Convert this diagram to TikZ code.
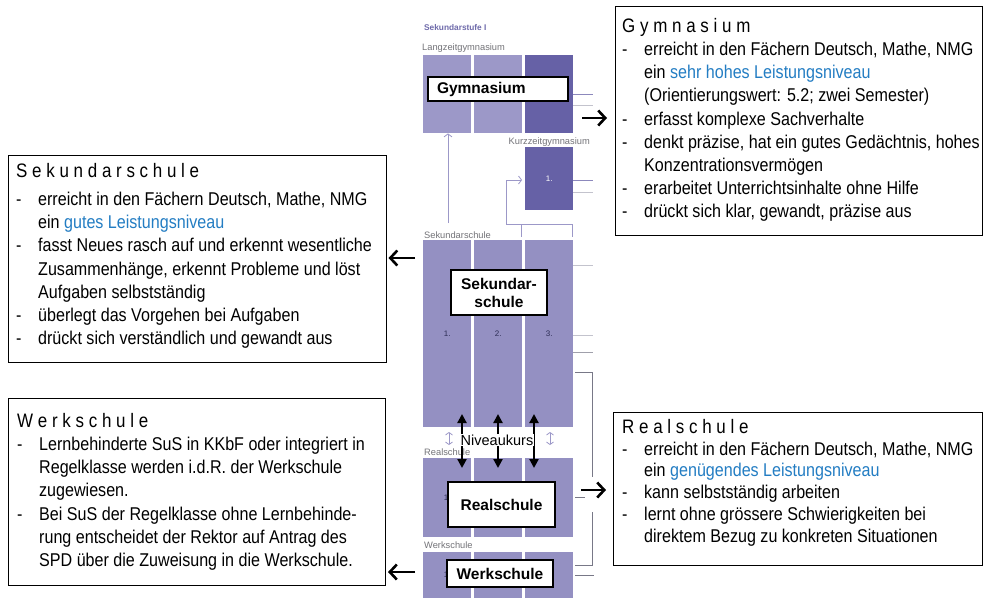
\documentclass[tikz,border=0pt]{standalone}
\usepackage{fontspec}
\setmainfont{Liberation Sans}[FakeStretch=0.87]
\newfontfamily\plainsans{Liberation Sans}
\usetikzlibrary{arrows.meta,calc}
\definecolor{lightpur}{RGB}{148,144,194}
\definecolor{gympur}{RGB}{156,152,200}
\definecolor{darkpur}{RGB}{102,97,166}
\definecolor{stufepur}{RGB}{110,106,170}
\definecolor{linkblue}{RGB}{35,125,195}
\definecolor{lblgray}{RGB}{115,115,120}
\definecolor{numdark}{RGB}{45,45,85}
\definecolor{sidepur}{RGB}{140,136,188}
\definecolor{sidegray}{RGB}{195,195,205}
\definecolor{brackgray}{RGB}{120,120,135}
\newcommand\bul{\makebox[22pt][l]{-}}
\newcommand\ind{\hspace*{22pt}}
\newcommand\bodyfont{\fontsize{18.5}{23.2}\selectfont}
\newcommand\titlefont{\fontsize{19.5}{23}\selectfont}
\tikzset{
  infobox/.style={draw=black, line width=1pt, inner sep=0pt, anchor=north west},
  infotext/.style={inner sep=0pt, align=left, anchor=north west, font=\bodyfont},
  blk/.style={fill=lightpur, draw=none, inner sep=0pt, anchor=north west, minimum width=48pt,
    text=numdark, font=\plainsans\fontsize{8}{9}\selectfont},
  smalllbl/.style={anchor=west, inner sep=0pt, text=lblgray, font=\plainsans\fontsize{9.3}{11}\selectfont},
  boldlbl/.style={draw=black, line width=1.2pt, fill=white, inner sep=0pt,
    font=\plainsans\fontsize{15.5}{18}\selectfont\bfseries, align=center},
  sideline/.style={line width=1pt, draw=sidepur},
  sidelight/.style={line width=1pt, draw=sidegray},
  bracket/.style={line width=0.9pt, draw=brackgray},
  uparrow/.style={line width=0.8pt, draw=gympur, -{Straight Barb[length=3pt,width=8pt]}},
  lightdbl/.style={line width=0.8pt, draw=gympur, {Straight Barb[length=2.5pt,width=7pt]}-{Straight Barb[length=2.5pt,width=7pt]}},
  sidearrow/.style={line width=2.6pt, -{Straight Barb[length=7pt,width=15pt]}},
  nivarrow/.style={line width=2.2pt, {Triangle[length=9pt,width=9pt]}-{Triangle[length=9pt,width=9pt]}}
}
\begin{document}
\begin{tikzpicture}[x=1pt,y=-1pt]
\useasboundingbox (0,0) rectangle (984,598);
\fill[white] (0,0) rectangle (984,598);

% ---------- centre diagram ----------
\node[smalllbl, text=stufepur, font=\plainsans\fontsize{8.3}{10}\selectfont\bfseries] (stufe) at (424,28) {Sekundarstufe I};
\node[smalllbl] (langlbl) at (422,48) {Langzeitgymnasium};

% Gymnasium blocks
\node[blk, fill=gympur, minimum height=78pt] (g1) at (423,55) {};
\node[blk, fill=gympur, minimum height=78pt] (g2) at (474,55) {};
\node[blk, fill=darkpur, minimum height=78pt] (g3) at (525,55) {};
\draw[sideline] (g3.east |- 0,94) -- (593,94);
\draw[sidelight] (g3.east |- 0,105) -- (593,105);

% Kurzzeitgymnasium
\node[smalllbl, anchor=east] (kurzlbl) at (590,142) {Kurzzeitgymnasium};
\node[blk, fill=darkpur, minimum height=63pt, text=white] (k1) at (525,147) {1.};
\draw[sideline] (k1.east |- 0,180) -- (593,180);
\draw[sidelight] (k1.east |- 0,192) -- (593,192);

% Sekundarschule blocks
\node[smalllbl] (seklbl) at (424,235) {Sekundarschule};
\node[blk, minimum height=187pt] (s1) at (423,240) {1.};
\node[blk, minimum height=187pt] (s2) at (474,240) {2.};
\node[blk, minimum height=187pt] (s3) at (525,240) {3.};
\draw[sidelight] (s3.east |- 0,265) -- (593,265);
\draw[sidelight] (s3.east |- 0,335) -- (593,335);
\draw[sidelight, draw=brackgray!70] (s3.east |- 0,352) -- (593,352);

% connectors Sekundarschule -> Gymnasium
\coordinate (upstart) at (448,223);
\draw[uparrow] (upstart) -- (upstart |- g1.south);
\coordinate (kb) at (506,224);
\draw[line width=0.8pt, draw=gympur] (kb) -- (572,224);
\draw[line width=0.8pt, draw=gympur] (521,224) -- (521 ,237);
\draw[line width=0.8pt, draw=gympur] (572,224) -- (572,237);
\draw[uparrow] (kb) -- (506,180) -- (522,180);

% Realschule blocks
\node[smalllbl] (reallbl) at (424,452) {Realschule};
\node[blk, minimum height=79pt] (r1) at (423,458) {1.};
\node[blk, minimum height=79pt] (r2) at (474,458) {};
\node[blk, minimum height=79pt] (r3) at (525,458) {};

% Werkschule blocks
\node[smalllbl] (werklbl) at (424,545) {Werkschule};
\node[blk, minimum height=46pt] (w1) at (423,552) {1.};
\node[blk, minimum height=46pt] (w2) at (474,552) {};
\node[blk, minimum height=46pt] (w3) at (525,552) {};

% right bracket and lines
\draw[bracket] (575,372) -- (592,372) -- (592,477);
\draw[bracket] (592,512) -- (592,565) -- (575,565);
\draw[bracket] (575,497) -- (585,497);
\draw[bracket] (575,575) -- (594,575);

% Niveaukurs
\draw[lightdbl] (449,432) -- (449,445);
\draw[lightdbl] (550,432) -- (550,445);
\coordinate (na1) at (462,414); \coordinate (nb1) at (462,468);
\coordinate (na2) at (498,414); \coordinate (nb2) at (498,468);
\coordinate (na3) at (534,414); \coordinate (nb3) at (534,468);
\draw[nivarrow] (na1) -- (nb1);
\draw[nivarrow] (na2) -- (nb2);
\draw[nivarrow] (na3) -- (nb3);
\node[fill=white, inner sep=0.5pt, font=\plainsans\fontsize{14.5}{16}\selectfont] (niveau) at (497,440) {Niveaukurs};

% bold labels
\node[boldlbl, minimum width=140pt, minimum height=24pt, text width=122pt, align=left] (gymlbl) at (498,89) {Gymnasium};
\node[boldlbl, minimum width=96pt, minimum height=45pt] (seklblbox) at (499,292.5) {Sekundar-\\schule};
\node[boldlbl, minimum width=107pt, minimum height=45pt] (reallblbox) at (501.5,504.5) {Realschule};
\node[boldlbl, minimum width=106pt, minimum height=27pt] (werklblbox) at (500,573.5) {Werkschule};

% ---------- info boxes ----------
\node[infobox, minimum width=367pt, minimum height=229pt] (gymbox) at (615,6) {};
\node[infotext] (gymtext) at (622,18) {{\titlefont G y m n a s i u m}\\
\bul erreicht in den Fächern Deutsch, Mathe, NMG\\
\ind ein \textcolor{linkblue}{sehr hohes Leistungsniveau}\\
\ind (Orientierungswert: 5.2; zwei Semester)\\
\bul erfasst komplexe Sachverhalte\\
\bul denkt präzise, hat ein gutes Gedächtnis, hohes\\
\ind Konzentrationsvermögen\\
\bul erarbeitet Unterrichtsinhalte ohne Hilfe\\
\bul drückt sich klar, gewandt, präzise aus};

\node[infobox, minimum width=378pt, minimum height=207pt] (sekbox) at (8,155) {};
\node[infotext] (sektext) at (16,163) {{\titlefont S e k u n d a r s c h u l e}\\[5pt]
\bul erreicht in den Fächern Deutsch, Mathe, NMG\\
\ind ein \textcolor{linkblue}{gutes Leistungsniveau}\\
\bul fasst Neues rasch auf und erkennt wesentliche\\
\ind Zusammenhänge, erkennt Probleme und löst\\
\ind Aufgaben selbstständig\\
\bul überlegt das Vorgehen bei Aufgaben\\
\bul drückt sich verständlich und gewandt aus};

\node[infobox, minimum width=377pt, minimum height=187pt] (werkbox) at (8,398) {};
\node[infotext] (werktext) at (17,413) {{\titlefont W e r k s c h u l e}\\
\bul Lernbehinderte SuS in KKbF oder integriert in\\
\ind Regelklasse werden i.d.R. der Werkschule\\
\ind zugewiesen.\\
\bul Bei SuS der Regelklasse ohne Lernbehinde-\\
\ind rung entscheidet der Rektor auf Antrag des\\
\ind SPD über die Zuweisung in die Werkschule.};

\node[infobox, minimum width=369pt, minimum height=153pt] (realbox) at (613,412) {};
\node[infotext, font=\fontsize{18.5}{21.8}\selectfont] (realtext) at (622,419) {{\titlefont R e a l s c h u l e}\\
\bul erreicht in den Fächern Deutsch, Mathe, NMG\\
\ind ein \textcolor{linkblue}{genügendes Leistungsniveau}\\
\bul kann selbstständig arbeiten\\
\bul lernt ohne grössere Schwierigkeiten bei\\
\ind direktem Bezug zu konkreten Situationen};

% ---------- arrows to the boxes ----------
\coordinate (gymfrom) at (582,118);
\draw[sidearrow, shorten >=8pt] (gymfrom) -- (gymfrom -| gymbox.west);
\coordinate (sekfrom) at (415,258);
\draw[sidearrow, shorten >=1.5pt] (sekfrom) -- (sekfrom -| sekbox.east);
\coordinate (realfrom) at (581,490);
\draw[sidearrow, shorten >=7pt] (realfrom) -- (realfrom -| realbox.west);
\coordinate (werkfrom) at (415,572);
\draw[sidearrow, shorten >=2pt] (werkfrom) -- (werkfrom -| werkbox.east);
\end{tikzpicture}
\end{document}
